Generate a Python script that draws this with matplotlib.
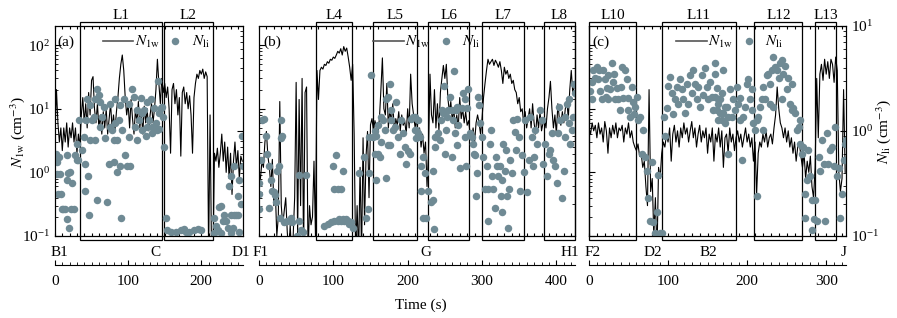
import numpy as np
import matplotlib
matplotlib.use("Agg")
import matplotlib.pyplot as plt
from matplotlib.patches import Rectangle
from matplotlib.lines import Line2D
from matplotlib.ticker import MultipleLocator

plt.rcParams['font.family'] = ['Liberation Serif', 'DejaVu Serif']
plt.rcParams['mathtext.fontset'] = 'stix'
plt.rcParams['font.size'] = 11

DOT = '#6f8a94'
DT = 2  # sampling step of the N_1w record (s)

# ---------------- panel (a): B1 -> C -> D1 ----------------
n1w_a = [4, 20, 6, 3, 5, 2.2, 5, 3, 6, 2.5, 5, 3.5, 6, 3, 5, 2, 4,
         2.5, 8, 15, 6, 12, 5, 18, 8, 28, 32, 10, 6, 12, 5, 8, 4, 9, 5, 10, 4,
         7, 12, 5, 8, 4.5, 9, 15, 30, 50, 70, 40, 15, 8, 12, 5, 14, 7, 4, 10, 6,
         13, 5, 9, 4, 11, 6, 10, 4.5, 8, 12, 6, 10, 20, 60, 25, 12,
         30, 18, 25, 15, 22, 10, 2, 20, 25, 12, 20, 8, 15, 1.8, 18, 22, 12, 18,
         10, 16, 8, 2, 15, 25, 35, 30, 40, 35, 42, 30, 38, 32, 0.05, 8, 0.05, 0.05,
         2, 1.5, 2.4, 1.2, 2, 4, 1.5, 3, 1, 2.5, 0.8, 2, 0.45, 1.5, 3, 1.2, 2.2,
         0.8, 1.8, 1.5]
nli_a = [(1.4, 0.61), (2.3, 0.51), (3.2, 0.39), (4.6, 0.25), (6.9, 0.39), (8.3, 0.25),
         (9.6, 0.18), (11.5, 0.18), (13.8, 0.18), (16, 0.59), (16, 0.34), (18.3, 0.40),
         (20.6, 0.41), (22, 0.18), (22.9, 0.32), (19.3, 0.12), (16, 0.145), (26.1, 0.18),
         (27.5, 0.59), (29.8, 0.53), (32.1, 0.53), (33, 1.27), (30.7, 0.76), (6, 0.57),
         (36.7, 0.66), (39, 0.88), (41.3, 0.49), (42.6, 1.27), (43.6, 2.0), (44.5, 0.37),
         (45.9, 0.16), (48.1, 0.82), (50.4, 1.27), (52.7, 1.37), (55, 2.0), (57.3, 2.5),
         (59.6, 2.2), (61.9, 1.1), (64.2, 1.37), (66.5, 1.7), (68.8, 0.85), (71.1, 0.21),
         (73.4, 0.49), (75.7, 1.8), (77.9, 1.02), (80.2, 0.82), (82.5, 1.2), (84.8, 0.41),
         (87.1, 1.27), (89.4, 1.75), (90.3, 0.15), (91.7, 1.02), (94, 2.0), (96.3, 0.59),
         (98.6, 0.46), (100.9, 1.8), (103.2, 0.46), (105.5, 2.5), (107.7, 2.1), (110, 1.1),
         (112.3, 1.6), (114.6, 1.27), (116.9, 2.05), (119.2, 1.5), (121.5, 1.6), (123.8, 0.9),
         (126.1, 1.9), (128.4, 1.27), (130.7, 2.0), (133, 1.1), (135.3, 1.65), (137.5, 1.18),
         (139.8, 1.02), (140.8, 3.0), (142.1, 1.05), (144.4, 1.65), (41.3, 0.27), (57.3, 0.22),
         (80.2, 0.51), (89.4, 0.46), (112.3, 0.82), (100.9, 0.88), (75.7, 1.1), (55, 0.82),
         (61.9, 1.9), (48.1, 1.75), (84.8, 0.82), (82.5, 2.0), (126.1, 1.1), (133, 0.95),
         (142.1, 1.5), (119.2, 1.02),
         (146.7, 1.7), (147.6, 1.37), (149, 0.71), (152.2, 0.15), (153.6, 0.114), (158.2, 0.11),
         (165.1, 0.11), (172, 0.114), (176.5, 0.117), (178.8, 0.11), (183.4, 0.11),
         (190.3, 0.114), (194.9, 0.117), (199.4, 0.114),
         (217.8, 0.15), (220.1, 0.125), (222.4, 0.114), (224.7, 0.19), (227, 0.195),
         (229.3, 0.14), (231.5, 0.16), (233.8, 0.14), (236.1, 0.12), (238.4, 0.30),
         (240.7, 0.16), (243, 0.12), (245.3, 0.16), (247.6, 0.16), (249.9, 0.24), (250.8, 0.16),
         (252.2, 0.34), (254.5, 0.20), (255.4, 0.9), (256.8, 0.46), (240.7, 0.37), (245.3, 0.46),
         (217.8, 0.106), (227, 0.106), (240.7, 0.106), (252.2, 0.11)]
legs_a = [("L1", 34, 146), ("L2", 149, 216)]
stations_a = [("B1", 5.5), ("C", 137), ("D1", 254)]
tmax_a = 257

# ---------------- panel (b): F1 -> G -> H1 ----------------
n1w_b = [1.0, 0.8, 1.5, 1.2, 3, 4.4, 1.8, 1.2, 0.6, 1.6,
         0.3, 0.5, 0.1, 0.2, 13, 0.3, 0.15, 0.25, 0.4, 0.12,
         0.05, 0.15, 0.05, 0.1, 0.4, 26, 0.1, 14, 0.3, 30,
         0.05, 18, 22, 0.05, 0.3, 0.15, 0.2, 1.5, 0.1, 40,
         14, 40, 45, 42, 50, 48, 55, 52, 60, 58,
         65, 62, 70, 80, 75, 88, 70, 95, 80, 90,
         65, 45, 28, 50, 4, 0.05, 0.3, 0.05, 1.2, 0.05,
         3.5, 0.15, 1.8, 4.4, 0.4, 5.6, 7, 4.5, 6.5, 5,
         4.2, 7, 20, 63, 10, 8, 25, 5, 10, 6,
         12, 4.5, 7, 5.5, 9, 4.5, 8, 5.5, 6.5, 4,
         10, 5, 35, 12, 8, 5, 7, 3.5, 5, 2.5,
         4, 2, 3, 0.6, 2, 35, 8, 6, 20, 5,
         12, 4.5, 18, 30, 48, 30, 50, 15, 9, 13,
         6.5, 10, 5, 8, 5, 15, 7, 10, 6, 9,
         5.5, 6.5, 4, 3.5, 5, 3, 6, 8, 6, 4,
         7, 15, 25, 40, 60, 50, 55, 60, 48, 58,
         52, 45, 55, 40, 25, 45, 35, 40, 30, 35,
         25, 28, 20, 18, 12, 15, 9, 10, 6, 9,
         5, 7, 10, 5, 12, 6, 4, 8, 5, 9,
         4.5, 6, 7, 5, 10, 15, 27, 10, 5, 8,
         4, 12, 7, 5.5, 9, 6, 10, 14, 7, 20,
         40, 18, 22]
nli_b = [(0, 0.32), (0, 0.25), (0, 0.18), (2.3, 0.53), (4.5, 1.27), (6.8, 1.3), (9, 0.9),
         (11.3, 0.61), (13.5, 0.46), (13.5, 0.185), (15.8, 0.34), (18, 0.27), (20.3, 0.26),
         (21.2, 0.245), (22.5, 0.21), (24.8, 0.42), (27, 0.46), (28.4, 0.15), (29.3, 0.85),
         (30.2, 1.27), (31.5, 0.9), (33.8, 0.135), (38.3, 0.14), (42.8, 0.15), (45, 0.135),
         (54, 0.14), (54, 0.385), (56.3, 0.114), (58.6, 0.11), (51.8, 0.1), (63, 0.385),
         (87.8, 0.125), (92.3, 0.13), (96.8, 0.135), (101.4, 0.14), (105.9, 0.14),
         (108.1, 0.145), (110.4, 0.14), (112.6, 0.145), (114.9, 0.14), (117.1, 0.145),
         (119.4, 0.14), (121.6, 0.13), (123.9, 0.135), (126.1, 0.12), (103.6, 0.59),
         (99.1, 0.46), (112.6, 0.42), (101.4, 0.28), (105.9, 0.28), (110.4, 0.28),
         (135.1, 0.40), (141.9, 0.57), (144.1, 0.15), (146.4, 0.18), (148.6, 0.40),
         (150.9, 3.4), (153.2, 0.88), (155.4, 0.61), (157.7, 0.9), (159.9, 0.61),
         (162.2, 0.57), (164.4, 0.79), (166.7, 1.27), (168.9, 1.02), (171.2, 2.0),
         (173.4, 2.1), (175.7, 2.8), (177.9, 1.27), (180.2, 1.02), (182.4, 1.1),
         (184.7, 1.9), (186.9, 0.88), (189.2, 0.61), (191.4, 1.27), (193.7, 0.95),
         (195.9, 0.71), (198.2, 0.49), (200.5, 0.64), (202.7, 0.61), (205, 1.3),
         (207.2, 1.37), (209.5, 1.02), (211.7, 0.85), (214, 0.95), (173.4, 0.74),
         (175.7, 0.74), (171.2, 0.36), (164.4, 1.37), (159.9, 1.14), (155.4, 1.0),
         (177.9, 1.6), (157.7, 0.34), (148.6, 0.88),
         (209.5, 1.37), (211.7, 1.02), (214, 1.27), (216.2, 0.88), (218.5, 0.46),
         (220.7, 0.57), (223, 0.40), (217.6, 0.27), (220.7, 0.15), (225.2, 0.15),
         (227.5, 0.27), (232, 0.21), (234.2, 0.22), (235.6, 0.117), (234.2, 0.42),
         (236.5, 0.71), (237.4, 0.88), (238.7, 0.88), (241, 0.95), (243.2, 0.82),
         (244.6, 1.27), (245.5, 1.6), (247.7, 1.5), (249.1, 2.7), (250, 0.61),
         (250.9, 1.02), (252.3, 1.37), (254.5, 1.6), (256.8, 2.1), (259, 1.6),
         (259.9, 0.57), (261.3, 1.27), (262.6, 3.7), (263.5, 0.95), (264.4, 1.6),
         (265.8, 1.7), (265.8, 0.74), (268, 1.14), (270.3, 0.44), (272.5, 1.65),
         (274.8, 2.3), (277, 2.0), (277.9, 0.46), (279.3, 1.65), (280.6, 2.5), (277, 0.88),
         (283.8, 0.95), (286, 0.88), (288.3, 0.76), (289.6, 0.61), (290.5, 0.59),
         (291.4, 0.24), (292.8, 0.40), (295, 2.1), (295.9, 1.75), (297.3, 1.18),
         (299.5, 0.88), (301.8, 0.57), (304.1, 0.28), (306.3, 0.46), (307.7, 0.28),
         (308.6, 0.14), (310.8, 0.76), (312.2, 1.02), (313.9, 0.37), (315.3, 0.28),
         (317.6, 0.185), (318.5, 0.57), (319.8, 0.46), (322.1, 0.37), (324.3, 0.46),
         (325.7, 0.24), (326.6, 0.17), (327.5, 0.34), (328.8, 0.76), (331.1, 0.42),
         (332, 0.66), (333.3, 0.24), (334.7, 0.12), (335.6, 0.28), (337.8, 0.53),
         (340.1, 0.40), (342.3, 1.27), (344.6, 0.98), (345.5, 0.66), (346.8, 1.3),
         (349.1, 0.88), (351.4, 0.27), (353.6, 0.59), (355.9, 0.41), (358.1, 1.27),
         (360.4, 0.26), (362.6, 0.53), (364.9, 1.37), (367.1, 0.88), (368, 0.46),
         (369.4, 0.57), (371.6, 1.02), (373.9, 0.76), (378.4, 1.6), (380.6, 1.27),
         (381.5, 0.49), (385.1, 0.76), (387.4, 0.37), (389.6, 0.61), (391.9, 0.66),
         (394.1, 0.95), (395, 0.53), (397.7, 0.46), (400.9, 0.32), (402.3, 0.95),
         (403.2, 1.7), (405.4, 1.27), (407.7, 0.23), (409.9, 0.42), (411.3, 1.37),
         (412.2, 0.88), (414.4, 1.8), (416.7, 2.0), (417.6, 1.18), (418.9, 0.76),
         (421.2, 1.02), (422.1, 1.37), (423.4, 2.8), (424.8, 2.3)]
legs_b = [("L4", 77, 125), ("L5", 153, 213), ("L6", 228, 282), ("L7", 300, 356), ("L8", 383, 425)]
stations_b = [("F1", 2.7), ("G", 225), ("H1", 418)]
tmax_b = 425

# ---------------- panel (c): F2 -> D2 -> B2 -> J ----------------
n1w_c = [5, 4, 6, 4.5, 5.5, 3.5, 6, 4, 5, 3,
         6.3, 4.5, 2, 5, 3.5, 5.5, 4, 6, 3.5, 5,
         4.5, 5.5, 3, 5, 4, 6, 3.5, 4.5, 3, 2.5,
         2.2, 2.8, 1.8, 2, 1.2, 1.5, 0.6, 0.3, 20, 0.5,
         0.8, 0.1, 0.4, 0.05, 1.2, 0.8, 2, 3, 2.5, 4,
         3, 5, 1.5, 4, 5.5, 3, 4.5, 2.5, 5, 3.5,
         6, 4, 5, 3, 4.5, 6.3, 3.5, 5, 2.5, 4,
         5.5, 3, 4.5, 3.5, 5, 2, 4, 3, 5, 1.5,
         4, 3, 5, 2.5, 4.5, 1.2, 3.5, 4, 2, 5,
         3, 4, 2.2, 3.5, 4.5, 3, 4, 2.5, 3.5, 5,
         3, 4, 2.5, 3.5, 1.5, 3, 0.45, 2, 3, 2.5,
         4, 3, 4.5, 2.5, 3.5, 4, 2.8, 5, 8, 22,
         10, 6, 5, 3.5, 5, 3, 4.5, 2.5, 3.5, 2,
         3, 1.5, 2.5, 3, 1.8, 1.2, 2, 0.8, 1.5, 1,
         1.8, 0.6, 0.4, 1.2, 30, 3.5, 35, 50, 28, 60,
         35, 55, 30, 60, 50, 26, 65, 40, 1, 0.5,
         0.8, 20, 1]
nli_c = [(1.3, 2.4), (3.4, 2.95), (5.5, 3.8), (7.6, 3.2), (9.7, 4.1), (11.8, 3.1),
         (13.9, 2.4), (16, 2.0), (18.1, 3.8), (20.3, 3.1), (22.4, 2.55), (24.5, 3.4),
         (26.6, 2.5), (28.7, 4.4), (30.8, 2.95), (32.9, 2.0), (35, 2.55), (37.1, 2.0),
         (39.2, 1.6), (41.4, 4.1), (43.5, 2.05), (45.6, 3.8), (47.7, 3.1), (49.8, 2.05),
         (51.9, 1.37), (54, 2.6), (56.1, 1.9), (58.2, 1.7), (60.3, 2.1), (62.4, 1.27),
         (64.6, 1.37), (66.7, 0.61), (68.8, 1.02), (70.9, 0.57), (73, 0.42), (75.1, 0.23),
         (77.2, 0.14), (79.3, 0.51), (81.4, 0.135), (83.5, 0.106), (85.7, 0.17), (87.8, 0.38),
         (89.9, 0.106), (92, 0.106), (95.4, 1.37), (96.2, 0.9), (98.3, 1.65), (100.4, 2.7),
         (102.5, 3.3), (104.6, 2.3), (106.8, 1.45), (108.9, 2.0), (111, 2.6), (113.1, 1.8),
         (115.2, 3.1), (117.3, 2.5), (119.4, 2.0), (121.5, 1.5), (123.6, 2.8), (125.7, 1.8),
         (127.8, 3.4), (130, 2.3), (132.1, 3.8), (134.2, 2.8), (136.3, 2.0), (138.4, 2.6),
         (140.5, 1.7), (142.6, 3.4), (144.7, 2.2), (146.8, 4.0), (148.9, 2.6), (151.1, 2.0),
         (153.2, 2.95), (155.3, 2.1), (157.4, 1.6), (159.5, 3.5), (161.6, 2.55), (163.7, 2.0),
         (165.8, 1.5), (167.9, 1.27), (170, 3.8), (172.2, 1.7),
         (4.2, 2.0), (12.7, 3.8), (21.1, 2.1), (32.1, 3.5), (40.5, 2.6), (49, 1.6),
         (57.4, 1.45), (24.5, 2.0),
         (159.5, 2.1), (159.5, 4.4), (161.6, 1.6), (163.7, 1.27), (165.8, 2.0), (167.9, 2.3),
         (170, 1.5), (172.2, 1.18), (174.3, 1.7), (176.4, 0.61), (178.5, 2.5), (180.6, 1.37),
         (182.7, 2.0), (184.8, 1.6), (186.9, 2.6), (189.1, 1.8), (191.1, 2.05), (193.2, 0.53),
         (195.4, 1.37), (197.5, 1.7), (199.6, 2.8), (201.7, 3.1), (203.8, 2.0), (205.9, 1.6),
         (208, 1.18), (210.1, 1.02), (212.2, 0.24), (214.3, 1.37), (216.5, 1.7), (218.6, 2.0),
         (220.7, 2.6), (222.8, 2.0), (224.9, 3.4), (227, 3.5), (229.1, 2.8), (231.2, 3.8),
         (233.3, 5.1), (235.4, 4.1), (237.6, 3.8), (239.7, 3.2), (241.8, 4.4), (243.9, 4.7),
         (246, 3.5), (248.1, 4.2), (250.2, 2.5), (252.3, 3.2), (254.4, 1.8), (256.5, 1.6),
         (258.6, 1.65), (260.8, 1.5), (262.9, 1.02), (265, 1.1), (267.1, 0.76), (269.2, 0.61),
         (271.3, 0.71), (273.4, 0.25), (273.4, 0.15), (275.5, 0.34), (277.6, 0.66),
         (279.7, 0.37), (281.9, 0.22), (281.9, 0.114), (284, 0.145), (286.1, 0.22),
         (288.2, 0.14), (290.3, 0.57), (292.4, 0.42), (294.5, 0.82), (296.6, 0.49),
         (298.7, 0.14), (300.8, 0.95), (302.9, 0.49), (305.1, 0.66), (307.2, 0.71),
         (309.3, 0.46), (311.4, 1.1), (313.5, 0.37), (315.6, 0.44), (317.7, 0.15),
         (319.8, 0.25), (321.9, 0.53), (324.1, 0.76), (325, 0.82),
         (163.7, 1.8), (176.4, 1.37), (191.1, 1.27), (205.9, 2.5), (212.2, 1.27),
         (229.1, 1.8), (243.9, 2.0), (256.5, 2.8), (233.3, 1.7), (220.7, 1.02), (267.1, 1.27)]
legs_c = [("L10", 0, 60), ("L11", 92, 186), ("L12", 209, 270), ("L13", 286, 313)]
stations_c = [("F2", 5), ("D2", 81), ("B2", 151), ("J", 322)]
tmax_c = 325

fig = plt.figure(figsize=(8.97, 3.18), dpi=100)


def draw_panel(rect, n1w, nli, legs, stations, tmax, tag, leg_x, left_lab, right_lab):
    ax = fig.add_axes(rect)
    t = np.arange(len(n1w)) * DT
    ax.plot(t, n1w, color='k', lw=0.8)
    ax.set_yscale('log')
    ax.set_ylim(0.1, 200)
    ax.set_xlim(0, tmax)
    ax.xaxis.set_major_locator(MultipleLocator(10))
    ax.tick_params(which='both', direction='in', top=True, right=False,
                   labelbottom=False, labelleft=left_lab)
    ax.tick_params(axis='x', length=2.5)
    ax.tick_params(axis='y', which='major', length=4)
    ax.tick_params(axis='y', which='minor', length=2)

    ax2 = ax.twinx()
    ts, vs = zip(*nli)
    ax2.plot(ts, vs, 'o', color=DOT, ms=5.4, mew=0)
    ax2.set_yscale('log')
    ax2.set_ylim(0.1, 10)
    ax2.set_xlim(0, tmax)
    ax2.tick_params(which='both', direction='in', labelright=right_lab)
    ax2.tick_params(which='major', length=4)
    ax2.tick_params(which='minor', length=2)

    trans = ax.get_xaxis_transform()
    for name, t0, t1 in legs:
        ax.add_patch(Rectangle((t0, -0.019), t1 - t0, 1.038, transform=trans,
                               fill=False, ec='k', lw=0.9, clip_on=False))
        ax.text((t0 + t1) / 2, 1.052, name, transform=trans, ha='center', va='center')
    for name, ts_ in stations:
        ax.text(ts_, -0.078, name, transform=trans, ha='center', va='center')

    ax.text(0.015, 0.924, tag, transform=ax.transAxes, ha='left', va='center')
    handles = [Line2D([], [], color='#555555', lw=1.2),
               Line2D([], [], ls='none', marker='o', color=DOT, ms=5.4, mew=0)]
    ax2.legend(handles, [r'$N_{\rm 1w}$', r'$N_{\rm li}$'], ncol=2, frameon=False,
               loc='center left', bbox_to_anchor=(leg_x, 0.924), borderpad=0,
               borderaxespad=0, handlelength=2.0, handletextpad=0.1,
               columnspacing=0.0, fontsize=11)

    # separate time axis underneath
    axt = fig.add_axes([rect[0], 0.1667, rect[2], 0.0001])
    axt.set_xlim(0, tmax)
    for s in ('top', 'left', 'right'):
        axt.spines[s].set_visible(False)
    axt.set_yticks([])
    axt.xaxis.set_major_locator(MultipleLocator(100))
    axt.xaxis.set_minor_locator(MultipleLocator(10))
    axt.tick_params(which='both', direction='in', pad=7)
    axt.tick_params(which='major', length=3.5)
    axt.tick_params(which='minor', length=2)
    return ax, ax2


draw_panel([0.0613, 0.2579, 0.2096, 0.6603], n1w_a, nli_a, legs_a, stations_a,
           tmax_a, '(a)', 0.255, True, False)
draw_panel([0.2887, 0.2579, 0.3523, 0.6603], n1w_b, nli_b, legs_b, stations_b,
           tmax_b, '(b)', 0.361, False, False)
draw_panel([0.6566, 0.2579, 0.2865, 0.6603], n1w_c, nli_c, legs_c, stations_c,
           tmax_c, '(c)', 0.339, False, True)

fig.text(0.02, 0.585, r'$N_{\rm 1w}$ (cm$^{-3}$)', rotation=90, ha='center', va='center')
fig.text(0.985, 0.585, r'$N_{\rm li}$ (cm$^{-3}$)', rotation=90, ha='center', va='center')
fig.text(0.469, 0.041, 'Time (s)', ha='center', va='center')

fig.savefig('out.png', dpi=100)
